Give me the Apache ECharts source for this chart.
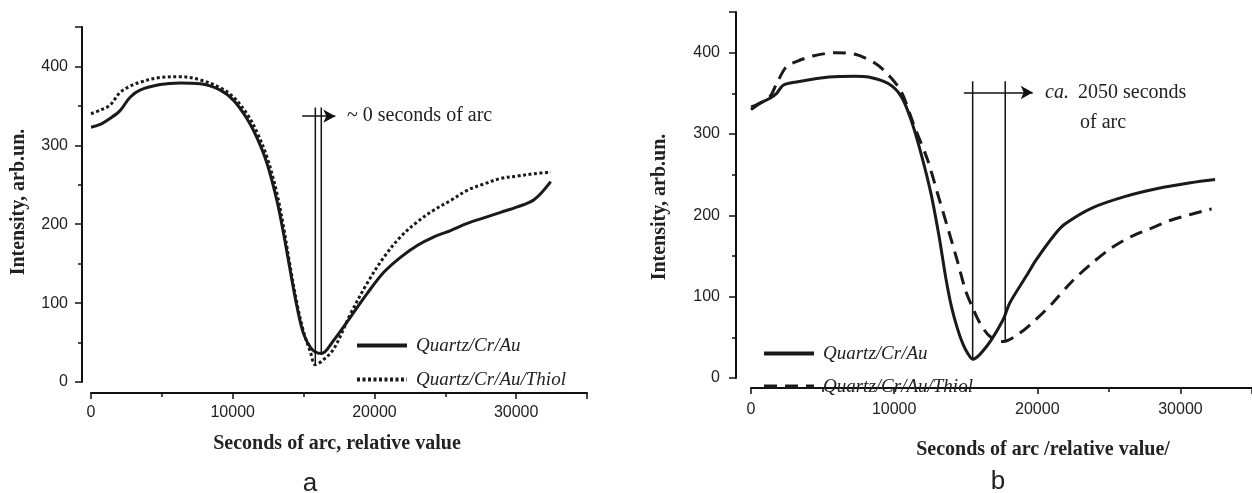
<!DOCTYPE html>
<html>
<head>
<meta charset="utf-8">
<script src="https://cdn.jsdelivr.net/npm/echarts@6/dist/echarts.min.js"></script>
<style>
  html, body { margin: 0; padding: 0; background: #fff; }
  #main { width: 1252px; height: 493px; }
</style>
</head>
<body>
<div id="main"></div>
<script>
// panel a
var aX = [0, 700, 1340, 2050, 2760, 3460, 4880, 6290, 7700, 9120, 10060, 11000, 11700, 12420, 13120, 13590,
  14060, 14540, 15000, 15480, 15830, 16250, 17130, 18300, 19480, 20660, 21840, 23020, 24200, 25370, 26550,
  27720, 28900, 30080, 31260, 32440];
var aSolid = [323, 327, 334, 344, 361, 370, 377, 379, 378, 370, 357, 334, 310, 277, 230, 188,
  141, 95, 61, 44, 38, 36, 53, 82, 112, 139, 158, 173, 184, 192, 201,
  208, 215, 222, 231, 254];
var aThiol = [340, 345, 351, 367, 375, 380, 386, 387, 383, 373, 361, 340, 317, 285, 239, 196,
  146, 99, 64, 38, 22, 26, 42, 86, 125, 158, 184, 203, 218, 230, 243,
  251, 258, 261, 264, 266];

// panel b
var bSolidX = [0, 640, 1330, 1790, 2250, 3170, 5460, 7290, 8200, 9590, 10500, 11190, 11880, 12570, 13140, 13600,
  14000, 14400, 14800, 15150, 15485, 16470, 17620, 18070, 19220, 19910, 21290, 21980, 23810, 26100, 28400, 30700, 32420];
var bSolidY = [330, 338, 344, 350, 360, 364, 370, 371, 370, 362, 346, 317, 276, 227, 174, 124,
  88, 62, 42, 30, 23, 39, 72, 92, 125, 145, 178, 190, 209, 223, 233, 240, 244];
var bThiolX = [0, 640, 1330, 1790, 2480, 3170, 4320, 5920, 7290, 8670, 9590, 10500, 11420, 12340, 13030, 13720,
  14400, 14980, 15440, 16010, 16700, 17620, 18760, 19910, 21060, 22440, 23810, 25190, 26570, 27940, 29320,
  30700, 32180];
var bThiolY = [333, 338, 346, 362, 383, 389, 396, 400, 398, 387, 373, 352, 309, 268, 227, 186,
  145, 108, 88, 67, 51, 45, 55, 72, 92, 119, 141, 160, 174, 184, 194,
  201, 208];

// annotation markers (data units)
var aMinX = [15830, 16250];
var aMinY = [22, 37];
var aArrow = [[14900, 337], [17240, 337]];
var aLineTop = 348;
var bMinX = [15485, 17760];
var bMinY = [23, 45];
var bArrow = [[14870, 351], [19680, 351]];
var bLineTop = 365;

var xTicks = { min: 0, max: 35000, interval: 10000 };
var yTicks = { min: 0, max: 450, interval: 100 };

var sansFont = '"Liberation Sans", Arial, sans-serif';
var serifFont = '"Liberation Serif", "Times New Roman", serif';
var ink = '#111';

function zip(xs, ys) {
  return xs.map(function (x, i) { return [x, ys[i]]; });
}

function plain(v) { return String(v); }

function makeX(idx, offset, margin) {
  return {
    type: 'value', gridIndex: idx,
    min: xTicks.min, max: xTicks.max, interval: xTicks.interval,
    offset: offset,
    splitLine: { show: false },
    axisLine: { onZero: false, lineStyle: { color: ink, width: 2 } },
    axisTick: { length: 6, lineStyle: { color: ink, width: 1.5 } },
    minorTick: { show: true, splitNumber: 2, length: 4, lineStyle: { color: ink, width: 1.5 } },
    axisLabel: { showMaxLabel: false, margin: margin, formatter: plain, color: '#222', fontFamily: sansFont, fontSize: 16 }
  };
}

function makeY(idx, offset, margin) {
  return {
    type: 'value', gridIndex: idx,
    min: yTicks.min, max: yTicks.max, interval: yTicks.interval,
    offset: offset,
    splitLine: { show: false },
    axisLine: { show: true, onZero: false, lineStyle: { color: ink, width: 2 } },
    axisTick: { show: true, length: 7, lineStyle: { color: ink, width: 1.5 } },
    minorTick: { show: true, splitNumber: 2, length: 4, lineStyle: { color: ink, width: 1.5 } },
    axisLabel: { showMaxLabel: false, margin: margin, formatter: plain, color: '#222', fontFamily: sansFont, fontSize: 16 }
  };
}

function vline(idx, x, y0, y1) {
  return {
    type: 'line', xAxisIndex: idx, yAxisIndex: idx, silent: true,
    symbol: 'none', data: [[x, y0], [x, y1]],
    lineStyle: { color: ink, width: 1.5 }, z: 5
  };
}

function arrow(idx, pts) {
  return {
    type: 'line', xAxisIndex: idx, yAxisIndex: idx, silent: true,
    symbol: 'none', data: [],
    markLine: {
      silent: true, symbol: ['none', 'arrow'], symbolSize: [10, 12],
      label: { show: false },
      lineStyle: { color: ink, width: 1.5, type: 'solid' },
      data: [[{ coord: pts[0] }, { coord: pts[1] }]]
    }
  };
}

function text(x, y, str, font, extra) {
  var s = Object.assign({ text: str, font: font, fill: '#222', textAlign: 'left', textVerticalAlign: 'middle' }, extra || {});
  return { type: 'text', x: x, y: y, style: s, silent: true };
}

function legendFor(prefix, left, top, gap) {
  return {
    left: left, top: top, orient: 'vertical', itemWidth: 50, itemHeight: 14, itemGap: gap,
    data: [prefix + '|Quartz/Cr/Au', prefix + '|Quartz/Cr/Au/Thiol'],
    formatter: function (n) { return n.slice(2); },
    itemStyle: { opacity: 0 },
    lineStyle: { width: 4 },
    textStyle: { fontFamily: serifFont, fontStyle: 'italic', fontSize: 19, color: '#222', padding: [0, 0, 0, 4] },
    selectedMode: false
  };
}

var chart = echarts.init(document.getElementById('main'), null, { renderer: 'canvas' });

var option = {
  backgroundColor: '#fff',
  animation: false,
  grid: [
    { left: 91, right: 665, top: 27, bottom: 111 },
    { left: 751, right: -7, top: 12, bottom: 115 }
  ],
  xAxis: [makeX(0, 11, 12), makeX(1, 10, 14)],
  yAxis: [makeY(0, 9, 14), makeY(1, 15, 16)],
  legend: [legendFor('a', 350, 331, 15), legendFor('b', 757, 339, 14)],
  series: [
    {
      name: 'a|Quartz/Cr/Au', type: 'line', xAxisIndex: 0, yAxisIndex: 0,
      data: zip(aX, aSolid), smooth: 0.35, symbol: 'none',
      lineStyle: { color: '#1a1a1a', width: 3 }, itemStyle: { color: '#1a1a1a' }, z: 3
    },
    {
      name: 'a|Quartz/Cr/Au/Thiol', type: 'line', xAxisIndex: 0, yAxisIndex: 0,
      data: zip(aX, aThiol), smooth: 0.35, symbol: 'none',
      lineStyle: { color: '#1a1a1a', width: 3, type: [3, 2.5] }, itemStyle: { color: '#1a1a1a' }, z: 2
    },
    {
      name: 'b|Quartz/Cr/Au', type: 'line', xAxisIndex: 1, yAxisIndex: 1,
      data: zip(bSolidX, bSolidY), smooth: 0.3, symbol: 'none',
      lineStyle: { color: '#1a1a1a', width: 3 }, itemStyle: { color: '#1a1a1a' }, z: 3
    },
    {
      name: 'b|Quartz/Cr/Au/Thiol', type: 'line', xAxisIndex: 1, yAxisIndex: 1,
      data: zip(bThiolX, bThiolY), smooth: 0.3, symbol: 'none',
      lineStyle: { color: '#1a1a1a', width: 3, type: [13, 8] }, itemStyle: { color: '#1a1a1a' }, z: 2
    },
    vline(0, aMinX[0], aMinY[0], aLineTop),
    vline(0, aMinX[1], aMinY[1], aLineTop),
    arrow(0, aArrow),
    vline(1, bMinX[0], bMinY[0], bLineTop),
    vline(1, bMinX[1], bMinY[1], bLineTop),
    arrow(1, bArrow)
  ],
  graphic: [
    text(19, 202, 'Intensity, arb.un.', 'bold 20px ' + serifFont, { textAlign: 'center' }),
    text(337, 444, 'Seconds of arc, relative value', 'bold 20px ' + serifFont, { textAlign: 'center' }),
    text(310, 484, 'a', '26px ' + sansFont, { textAlign: 'center' }),
    text(347, 116, '~ 0 seconds of arc', '20px ' + serifFont),
    text(660, 207, 'Intensity, arb.un.', 'bold 20px ' + serifFont, { textAlign: 'center' }),
    text(1043, 450, 'Seconds of arc /relative value/', 'bold 20px ' + serifFont, { textAlign: 'center' }),
    text(998, 482, 'b', '26px ' + sansFont, { textAlign: 'center' }),
    text(1045, 93, 'ca.', 'italic 20px ' + serifFont),
    text(1078, 93, '2050 seconds', '20px ' + serifFont),
    text(1080, 123, 'of arc', '20px ' + serifFont)
  ]
};

// rotate the y titles
option.graphic[0].rotation = Math.PI / 2;
option.graphic[4].rotation = Math.PI / 2;

chart.setOption(option);
</script>
</body>
</html>
